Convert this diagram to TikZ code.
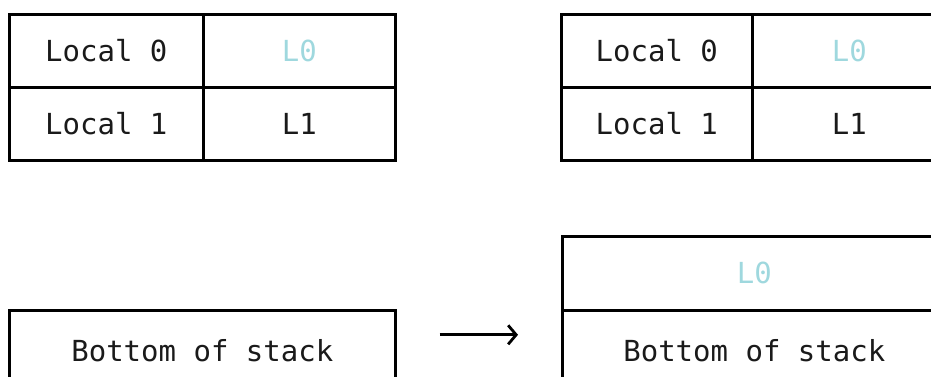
\documentclass[tikz,border=0pt]{standalone}
\usepackage{fontspec}
\setmonofont{DejaVu Sans Mono}
\usetikzlibrary{arrows.meta}
\definecolor{ink}{HTML}{1A1A1A}
\definecolor{regval}{HTML}{9FD8DE}
\tikzset{
  cell/.style={draw=black, line width=2.6pt, rectangle, inner sep=0pt, anchor=north west,
    font=\ttfamily\fontsize{29}{31}\selectfont, text=ink},
  valtext/.style={text=regval},
  flow/.style={line width=2.8pt, -{Straight Barb[length=8pt,width=19pt,line width=2.8pt]}},
}
\begin{document}
\begin{tikzpicture}[x=1pt,y=-1pt]
\useasboundingbox (0,0) rectangle (931,377);
\clip (0,0) rectangle (931,377);
% locals table, before
\node[cell, minimum width=194pt, minimum height=73pt] (la0) at (8,13) {Local 0};
\node[cell, valtext, minimum width=192pt, minimum height=73pt] (lb0) at (202,13) {L0};
\node[cell, minimum width=194pt, minimum height=73pt] (la1) at (8,86) {Local 1};
\node[cell, minimum width=192pt, minimum height=73pt] (lb1) at (202,86) {L1};
% locals table, after
\node[cell, minimum width=191pt, minimum height=73pt] (ra0) at (560,13) {Local 0};
\node[cell, valtext, minimum width=194pt, minimum height=73pt] (rb0) at (751,13) {L0};
\node[cell, minimum width=191pt, minimum height=73pt] (ra1) at (560,86) {Local 1};
\node[cell, minimum width=194pt, minimum height=73pt] (rb1) at (751,86) {L1};
% operand stack, before
\node[cell, minimum width=386pt, minimum height=81pt] (sl) at (8,309) {Bottom of stack};
% operand stack, after load
\node[cell, valtext, minimum width=384pt, minimum height=74pt] (st) at (561,235) {L0};
\node[cell, minimum width=384pt, minimum height=81pt] (sb) at (561,309) {Bottom of stack};
% transition arrow
\draw[flow, shorten <=43pt, shorten >=43pt] ([yshift=16pt]sl.east) -- ([yshift=16pt]sb.west);
\end{tikzpicture}
\end{document}
